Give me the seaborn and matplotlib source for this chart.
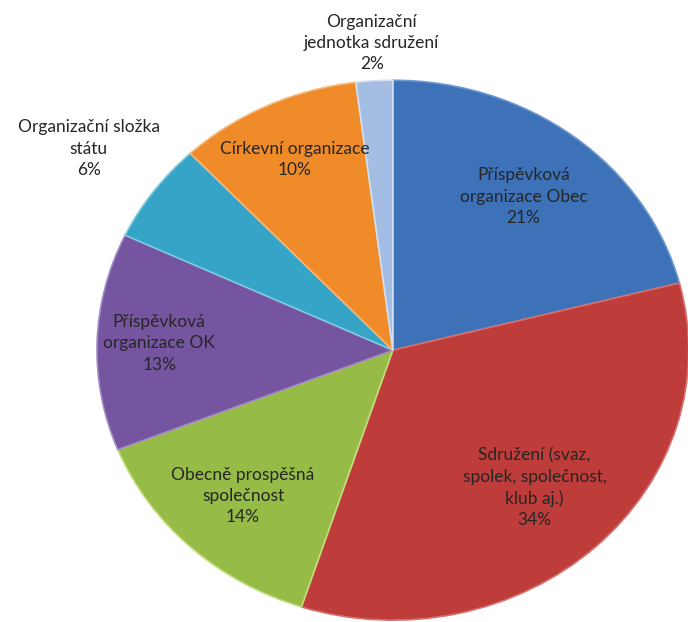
import numpy as np
import matplotlib
matplotlib.use('Agg')
import matplotlib.pyplot as plt
import seaborn as sns

# Data (clockwise from 12 o'clock)
categories = ['Příspěvková\norganizace Obec',
              'Sdružení (svaz,\nspolek, společnost,\nklub aj.)',
              'Obecně prospěšná\nspolečnost',
              'Příspěvková\norganizace OK',
              'Organizační složka\nstátu',
              'Církevní organizace',
              'Organizační\njednotka sdružení']
shares = [21, 34, 14, 13, 6, 10, 2]

colors = ['#3d72b9', '#be3c39', '#96bb46', '#7655a0', '#35a4c6', '#ef8b28', '#a3bde3']
edges = ['#6f98d0', '#d66f6c', '#c3de7e', '#a088c4', '#7cc9e0', '#f8b676', '#d3e0f3']
# label radius for each slice (inside vs outside)
label_r = [0.72, 0.70, 0.74, 0.79, 1.27, 0.78, 1.14]

sns.set_theme(style='white')
plt.rcParams['font.family'] = ['Lato', 'DejaVu Sans']

fig = plt.figure(figsize=(6.88, 6.22), dpi=100)
ax = fig.add_axes([0.141, 0.003, 0.860, 0.868])

wedges, _ = ax.pie(shares, colors=colors, startangle=90, counterclock=False,
                   wedgeprops=dict(linewidth=1.2))
for w, ec in zip(wedges, edges):
    w.set_edgecolor(ec)

ax.set_aspect('auto')
ax.set_xlim(-1, 1)
ax.set_ylim(-1, 1)
ax.axis('off')

for w, name, val, r in zip(wedges, categories, shares, label_r):
    ang = np.deg2rad((w.theta1 + w.theta2) / 2)
    ax.text(r * np.cos(ang), r * np.sin(ang), f'{name}\n{val}%',
            ha='center', va='center', fontsize=12.5, color='#262626',
            linespacing=1.4, clip_on=False)

fig.savefig('out.png', dpi=100)
